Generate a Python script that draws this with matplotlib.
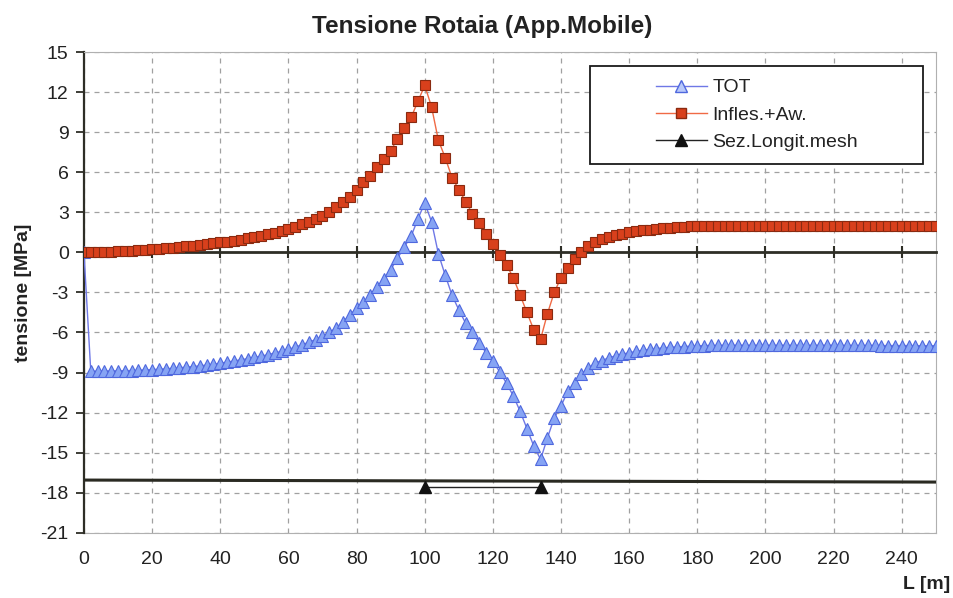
import numpy as np
import matplotlib
matplotlib.use("Agg")
import matplotlib.pyplot as plt
from matplotlib.patches import Rectangle

plt.rcParams['font.family'] = ['Liberation Sans', 'DejaVu Sans']
plt.rcParams['axes.unicode_minus'] = False

# stations along the rail, every 2 m
L_m = np.arange(0, 252, 2)

# Infles.+Aw. [MPa]
infles_aw = [
    0.0, 0.02, 0.03, 0.04, 0.06, 0.08, 0.1, 0.12, 0.15, 0.18,
    0.22, 0.26, 0.3, 0.35, 0.4, 0.45, 0.5, 0.55, 0.61, 0.67,
    0.74, 0.81, 0.88, 0.96, 1.05, 1.14, 1.24, 1.35, 1.47, 1.6,
    1.75, 1.92, 2.1, 2.3, 2.52, 2.75, 3.05, 3.4, 3.75, 4.15,
    4.7, 5.3, 5.7, 6.4, 7.0, 7.6, 8.5, 9.3, 10.1, 11.3,
    12.5, 10.9, 8.4, 7.1, 5.6, 4.7, 3.8, 2.9, 2.2, 1.4,
    0.6, -0.2, -0.95, -1.9, -3.2, -4.5, -5.8, -6.5, -4.6, -3.0,
    -1.9, -1.2, -0.5, 0.05, 0.45, 0.75, 0.98, 1.15, 1.28, 1.4,
    1.5, 1.58, 1.65, 1.71, 1.76, 1.8, 1.85, 1.88, 1.91, 1.94,
    1.97, 2.0, 2.0, 2.01, 2.01, 2.01, 2.0, 2.0, 2.0, 2.0,
    2.0, 2.0, 2.0, 2.0, 2.0, 2.0, 2.0, 2.0, 2.0, 1.99,
    1.99, 1.99, 1.99, 1.99, 1.98, 1.98, 1.98, 1.98, 1.97, 1.97,
    1.97, 1.96, 1.96, 1.96, 1.95, 1.95,
]

# TOT [MPa]
tot = [
    0.0, -8.9, -8.9, -8.88, -8.88, -8.87, -8.86, -8.85, -8.83, -8.8,
    -8.78, -8.75, -8.72, -8.68, -8.64, -8.6, -8.55, -8.5, -8.44, -8.38,
    -8.3, -8.22, -8.13, -8.05, -7.96, -7.87, -7.77, -7.66, -7.54, -7.41,
    -7.27, -7.1, -6.92, -6.73, -6.53, -6.3, -6.0, -5.65, -5.2, -4.7,
    -4.2, -3.75, -3.2, -2.6, -2.0, -1.3, -0.45, 0.4, 1.2, 2.5,
    3.7, 2.3, -0.1, -1.7, -3.2, -4.3, -5.3, -6.0, -6.8, -7.5,
    -8.15, -8.95, -9.8, -10.75, -11.9, -13.2, -14.5, -15.5, -13.9, -12.4,
    -11.5, -10.4, -9.75, -9.1, -8.65, -8.3, -8.1, -7.9, -7.75, -7.62,
    -7.52, -7.42, -7.33, -7.26, -7.2, -7.15, -7.11, -7.08, -7.05, -7.03,
    -7.0, -6.98, -6.97, -6.97, -6.96, -6.96, -6.96, -6.96, -6.96, -6.96,
    -6.96, -6.96, -6.96, -6.96, -6.96, -6.96, -6.96, -6.96, -6.96, -6.96,
    -6.96, -6.97, -6.97, -6.97, -6.97, -6.97, -6.97, -6.98, -6.98, -6.98,
    -6.98, -6.98, -6.99, -6.99, -6.99, -6.99,
]

# Sez.Longit.mesh
mesh_base_x = [0, 250]
mesh_base_y = [-17.05, -17.2]
mesh_x = [100, 134]
mesh_y = [-17.6, -17.6]

fig = plt.figure(figsize=(9.54, 5.98), dpi=100)
ax = fig.add_axes([0.088, 0.109, 0.893, 0.804])

ax.set_xlim(0, 250)
ax.set_ylim(-21, 15)
ax.set_yticks(np.arange(-21, 16, 3))
ax.set_xticks(np.arange(0, 241, 20))

# grid
ax.grid(True, color='#a0a0a0', linestyle=(0, (4, 4)), linewidth=0.9)
ax.set_axisbelow(True)

# series
ax.plot(mesh_base_x, mesh_base_y, color='#2a2a22', lw=2.2, zorder=3)
ax.plot(mesh_x, mesh_y, color='#222222', lw=1.0, marker='^', ms=8,
        markerfacecolor='#111111', markeredgecolor='#111111', zorder=3)
ax.plot(L_m, tot, color='#6f78e6', lw=1.0, marker='^', ms=8,
        markerfacecolor='#86a4f4', markeredgecolor='#4f68de', mew=0.8, zorder=4)
ax.plot(L_m, infles_aw, color='#f06a45', lw=1.0, marker='s', ms=6.5,
        markerfacecolor='#d8401c', markeredgecolor='#8a2a10', mew=0.8, zorder=5)

# axes: x-axis crosses at 0 (Excel style)
ax.spines['bottom'].set_position(('data', 0))
ax.spines['bottom'].set_color('#2e2e26')
ax.spines['bottom'].set_linewidth(2.0)
ax.spines['bottom'].set_zorder(2.5)
ax.spines['left'].set_color('#2e2e26')
ax.spines['left'].set_linewidth(1.6)
ax.spines['top'].set_color('#b0b0b0')
ax.spines['right'].set_color('#b0b0b0')
ax.tick_params(axis='x', direction='inout', length=9, width=1.5,
               color='#2e2e26', labelbottom=False)
ax.tick_params(axis='y', direction='out', length=6, width=1.3,
               color='#2e2e26', labelsize=14, labelcolor='#222222', pad=5)

sec = ax.secondary_xaxis('bottom')
sec.set_xticks(np.arange(0, 241, 20))
sec.tick_params(length=0, labelsize=14, labelcolor='#222222', pad=13)
sec.spines['bottom'].set_color('#b0b0b0')

ax.set_ylabel('tensione [MPa]', fontsize=14, fontweight='bold',
              color='#222222', labelpad=6)
fig.text(0.996, 0.008, 'L [m]', fontsize=14, fontweight='bold',
         color='#222222', ha='right', va='bottom')
fig.text(0.505, 0.955, 'Tensione Rotaia (App.Mobile)', fontsize=17.5,
         fontweight='bold', color='#222222', ha='center', va='center')

# legend box
ax.add_patch(Rectangle((0.594, 0.767), 0.391, 0.204, transform=ax.transAxes,
                       facecolor='white', edgecolor='#1a1a1a', lw=1.3, zorder=6))
handles = [
    plt.Line2D([], [], color='#6f78e6', lw=1.0, marker='^', ms=8,
               markerfacecolor='#b9c9fa', markeredgecolor='#4f68de'),
    plt.Line2D([], [], color='#f06a45', lw=1.0, marker='s', ms=6.5,
               markerfacecolor='#d8401c', markeredgecolor='#8a2a10'),
    plt.Line2D([], [], color='#222222', lw=1.0, marker='^', ms=8,
               markerfacecolor='#111111', markeredgecolor='#111111'),
]
leg = ax.legend(handles, ['TOT', 'Infles.+Aw.', 'Sez.Longit.mesh'],
                loc='center', bbox_to_anchor=(0.79, 0.869), frameon=False,
                fontsize=14, handlelength=2.6, handletextpad=0.3,
                labelspacing=0.5)
leg.set_zorder(7)
for t in leg.get_texts():
    t.set_color('#222222')

fig.savefig('out.png', dpi=100)
